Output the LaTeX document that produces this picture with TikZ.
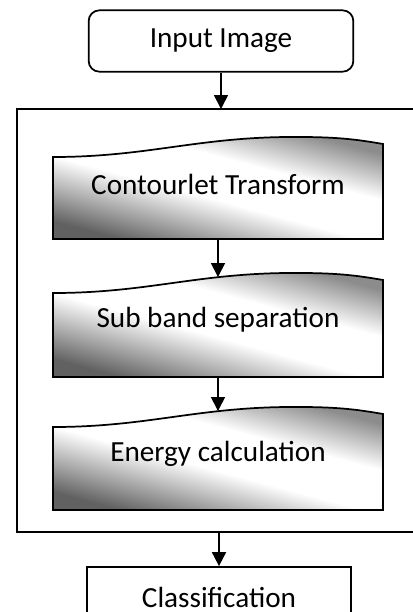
\documentclass[tikz,border=0pt]{standalone}
\usepackage{fontspec}
\setmainfont{Carlito}
\usetikzlibrary{arrows.meta}
\pgfdeclareverticalshading{docshade}{100bp}{color(0bp)=(black!62); color(25bp)=(black!62); color(46bp)=(white); color(60bp)=(white); color(75bp)=(black!45); color(100bp)=(black!45)}

\begin{document}
\begin{tikzpicture}[x=0.75pt,y=-0.75pt,
    linea/.style={line width=1.3pt},
    flecha/.style={linea,-{Triangle[length=10.5pt,width=10.5pt]}},
    texto/.style={font=\fontsize{21.9}{26}\selectfont},
    caja/.style={draw,linea,texto,minimum width=198.5pt,minimum height=46pt,inner sep=0pt},
    doc/.style={draw,linea,shading=docshade,shading angle=-15}]

      \useasboundingbox (0,0) rectangle (413,612);
      \clip (0,0) rectangle (413,612);

      % entrada
      \node[caja,rounded corners=8pt] (entrada) at (221,41) {Input Image};

      % marco exterior
      \draw[linea] (17,109) rectangle (430,532); % Rectángulo
      \coordinate (marcoN) at (221,109);
      \coordinate (marcoS) at (219,532);

      % bloques con borde ondulado
      \draw[doc] (53,239) -- (53,157) .. controls (150,157) and (200,136) .. (300,137)
        .. controls (340,137) and (360,140) .. (383,144) -- (383,239) -- cycle; % bloque 1
      \draw[doc] (53,377) -- (53,293) .. controls (150,293) and (200,272) .. (300,273)
        .. controls (340,273) and (360,276) .. (383,280) -- (383,377) -- cycle; % bloque 2
      \draw[doc] (53,510) -- (53,427) .. controls (150,427) and (200,406) .. (300,407)
        .. controls (340,407) and (360,410) .. (383,414) -- (383,510) -- cycle; % bloque 3

      \coordinate (b1) at (218,239);
      \coordinate (t2) at (218,277);
      \coordinate (b2) at (218,377);
      \coordinate (t3) at (218,411);

      \node[texto] (contourlet) at (218,184) {Contourlet Transform};
      \node[texto] (subbanda) at (218,320) {Sub band separation};
      \node[texto] (energia) at (218,454) {Energy calculation};

      % salida
      \node[caja,minimum height=45pt] (clasif) at (219,597) {Classification};

      % flechas
      \draw[flecha] (entrada) -- (marcoN);
      \draw[flecha] (b1) -- (t2);
      \draw[flecha] (b2) -- (t3);
      \draw[flecha] (marcoS) -- (clasif);

    \end{tikzpicture}
\end{document}
